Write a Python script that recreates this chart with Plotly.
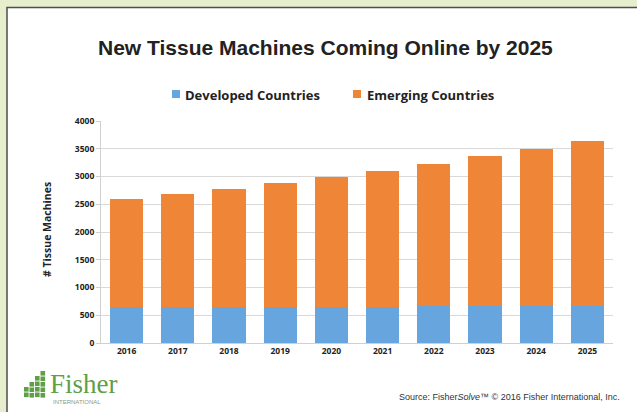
import plotly.graph_objects as go

years = ["2016", "2017", "2018", "2019", "2020", "2021", "2022", "2023", "2024", "2025"]
developed = [645, 645, 645, 650, 650, 650, 665, 665, 670, 670]
total = [2590, 2680, 2780, 2890, 3000, 3105, 3230, 3375, 3500, 3640]
emerging = [t - d for t, d in zip(total, developed)]
y_ticks = [0, 500, 1000, 1500, 2000, 2500, 3000, 3500, 4000]
series_names = ["Developed Countries", "Emerging Countries"]

W, H = 637, 412
L, R, T, B = 101, 24, 121, 69
PW, PH = W - L - R, H - T - B


def px(x):
    return (x - L) / PW


def py(y):
    return (H - B - y) / PH


BLUE = "#66a5de"
ORANGE = "#ef8537"
GREEN = "#5f9f45"
SANS = "Open Sans"

fig = go.Figure()
fig.add_trace(go.Bar(x=years, y=developed, name=series_names[0],
                     marker=dict(color=BLUE, line=dict(width=0))))
fig.add_trace(go.Bar(x=years, y=emerging, name=series_names[1],
                     marker=dict(color=ORANGE, line=dict(width=0))))

shapes = [
    # white panel with dark frame
    dict(type="rect", xref="paper", yref="paper", layer="below",
         x0=px(7), x1=px(660), y0=py(420), y1=py(7.5),
         fillcolor="white", line=dict(color="#4d4d4d", width=1.5)),
]

# legend keys
for key_x, color in [(172, BLUE), (353, ORANGE)]:
    shapes.append(dict(type="rect", xref="paper", yref="paper",
                       x0=px(key_x), x1=px(key_x + 8), y0=py(98), y1=py(90),
                       fillcolor=color, line=dict(width=0)))

# logo mark: stepped block of green squares
cols = [(24, 387, 398), (29.5, 382, 398), (35, 376, 398), (40.5, 371, 398)]
for x0, top, bot in cols:
    y = top
    while y < bot:
        shapes.append(dict(type="rect", xref="paper", yref="paper",
                           x0=px(x0), x1=px(x0 + 4.6), y0=py(min(y + 4.6, bot)), y1=py(y),
                           fillcolor=GREEN, line=dict(width=0)))
        y += 5.5

annotations = [
    dict(text="<b>New Tissue Machines Coming Online by 2025</b>", x=px(325), y=py(47),
         xref="paper", yref="paper", showarrow=False, xanchor="center", yanchor="middle",
         font=dict(family="Liberation Sans", size=21, color="#222222")),
    dict(text="<b># Tissue Machines</b>", x=px(47), y=py(230), textangle=-90,
         xref="paper", yref="paper", showarrow=False, xanchor="center", yanchor="middle",
         font=dict(family=SANS, size=10.5, color="#222222")),
    dict(text="<b>" + series_names[0] + "</b>", x=px(183), y=py(94.5), xref="paper", yref="paper",
         showarrow=False, xanchor="left", yanchor="middle",
         font=dict(family=SANS, size=13, color="#222222")),
    dict(text="<b>" + series_names[1] + "</b>", x=px(365), y=py(94.5), xref="paper", yref="paper",
         showarrow=False, xanchor="left", yanchor="middle",
         font=dict(family=SANS, size=13, color="#222222")),
    dict(text="Fisher", x=px(48), y=py(384), xref="paper", yref="paper", showarrow=False,
         xanchor="left", yanchor="middle",
         font=dict(family="Liberation Serif", size=27, color=GREEN)),
    dict(text="INTERNATIONAL", x=px(51), y=py(402), xref="paper", yref="paper", showarrow=False,
         xanchor="left", yanchor="middle",
         font=dict(family="Liberation Sans", size=6, color="#8a9a80")),
    dict(text="Source: Fisher<i>Solve</i>\u2122 \u00a9 2016 Fisher International, Inc.",
         x=px(622), y=py(397), xref="paper", yref="paper", showarrow=False,
         xanchor="right", yanchor="middle",
         font=dict(family="Liberation Sans", size=9, color="#333333")),
]

tick_font = dict(family=SANS, size=8.5, color="#222222")

fig.update_layout(
    width=W, height=H,
    margin=dict(l=L, r=R, t=T, b=B),
    paper_bgcolor="#e7eece",
    plot_bgcolor="white",
    barmode="stack",
    bargap=0.355,
    showlegend=False,
    shapes=shapes,
    annotations=annotations,
    xaxis=dict(tickvals=years, ticktext=["<b>" + y + "</b>" for y in years],
               tickfont=tick_font,
               showline=True, linecolor="#d0d0d0", linewidth=1, ticks="", showgrid=False),
    yaxis=dict(range=[0, 4000], tickvals=y_ticks, ticktext=["<b>" + str(v) + "</b>" for v in y_ticks],
               tickfont=tick_font,
               showgrid=True, gridcolor="#d9d9d9", gridwidth=1,
               showline=True, linecolor="#d0d0d0", linewidth=1,
               ticks="outside", ticklen=4, tickcolor="#d0d0d0", zeroline=False),
)

fig.write_html("out.html")
